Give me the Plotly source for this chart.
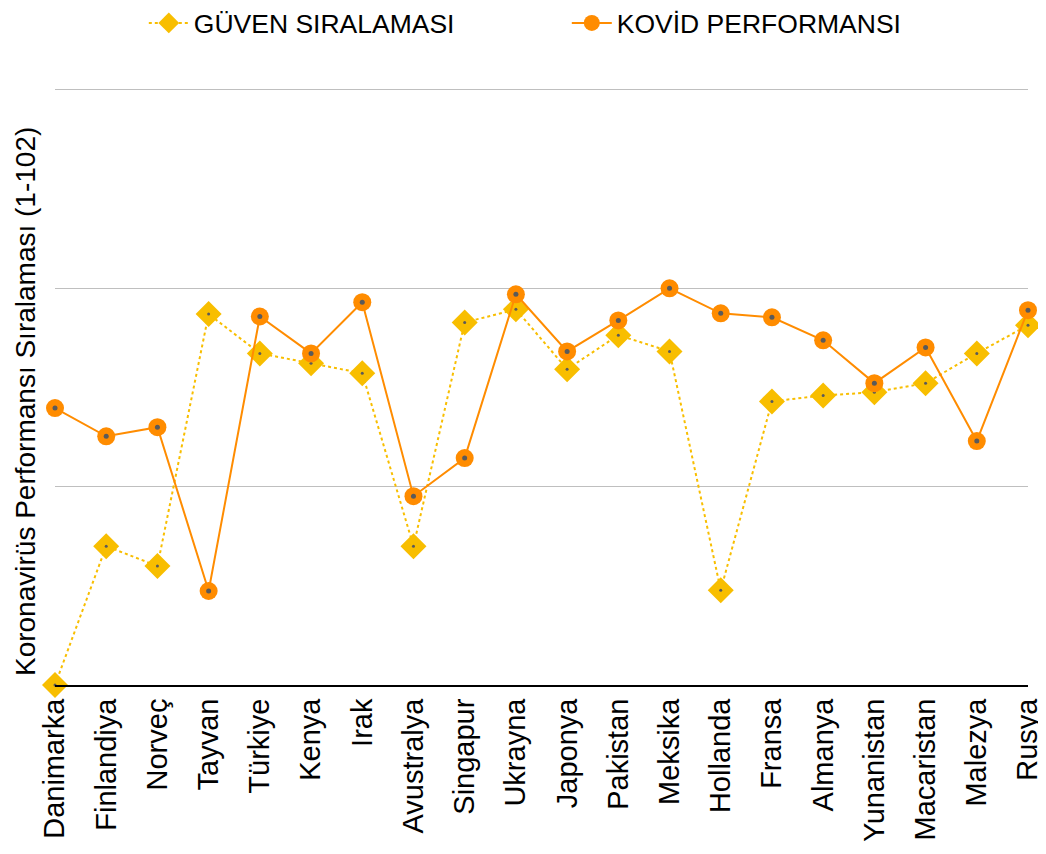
import plotly.graph_objects as go

countries = ["Danimarka", "Finlandiya", "Norveç", "Tayvan", "Türkiye", "Kenya", "Irak",
             "Avustralya", "Singapur", "Ukrayna", "Japonya", "Pakistan", "Meksika", "Hollanda",
             "Fransa", "Almanya", "Yunanistan", "Macaristan", "Malezya", "Rusya"]
guven = [0, 35, 30, 93.5, 83.6, 81.1, 78.6, 35, 91.4, 94.7, 79.6, 88.2, 84.1, 23.9,
         71.5, 73, 73.8, 76.1, 83.6, 90.7]
kovid = [69.8, 62.7, 65, 23.7, 92.9, 83.6, 96.5, 47.6, 57.2, 98.5, 84.1, 91.9, 100, 93.7,
         92.7, 86.9, 76.1, 85.1, 61.5, 94.5]
y_title = "Koronavirüs Performansı Sıralaması (1-102)"

x_idx = list(range(len(countries)))
FONT = "Liberation Sans, Arial, sans-serif"
GOLD = "#F8BE00"
ORANGE = "#FF8C00"
DOT = "#5A5A5A"

fig = go.Figure()
fig.add_trace(go.Scatter(
    x=x_idx, y=guven, name="GÜVEN SIRALAMASI", mode="lines+markers",
    line=dict(color=GOLD, width=2, dash="3px,3px"),
    marker=dict(symbol="diamond", size=20, color=GOLD),
    cliponaxis=False))
fig.add_trace(go.Scatter(
    x=x_idx, y=guven, mode="markers", showlegend=False, hoverinfo="skip",
    marker=dict(symbol="circle", size=3, color=DOT), cliponaxis=False))
fig.add_trace(go.Scatter(
    x=x_idx, y=kovid, name="KOVİD PERFORMANSI", mode="lines+markers",
    line=dict(color=ORANGE, width=2),
    marker=dict(symbol="circle", size=18, color=ORANGE),
    cliponaxis=False))
fig.add_trace(go.Scatter(
    x=x_idx, y=kovid, mode="markers", showlegend=False, hoverinfo="skip",
    marker=dict(symbol="circle", size=5, color=DOT), cliponaxis=False))

fig.add_annotation(
    text=y_title, xref="paper", yref="paper", x=0, y=0.474, xshift=-30,
    xanchor="center", yanchor="middle", textangle=-90, showarrow=False,
    font=dict(size=28, family=FONT, color="black"))

fig.update_layout(
    width=1038, height=846,
    margin=dict(l=47, r=18, t=80, b=169, autoexpand=False),
    paper_bgcolor="white", plot_bgcolor="white",
    font=dict(family=FONT, color="black"),
    showlegend=True,
    legend=dict(orientation="h", x=0.526, xanchor="center", y=0.982, yanchor="middle",
                yref="container", font=dict(size=26.5, family=FONT), itemwidth=40,
                entrywidth=368, traceorder="normal"),
    xaxis=dict(range=[0, 19], tickmode="array", tickvals=x_idx, ticktext=countries,
               tickangle=-90, tickfont=dict(size=29, family=FONT), showgrid=False,
               showline=True, linecolor="black", linewidth=2, ticks="", zeroline=False,
               automargin=False),
    yaxis=dict(range=[0, 150.5], tickmode="array", tickvals=[50, 100, 150],
               showticklabels=False, showgrid=True, automargin=False,
               gridcolor="#BFBFBF", gridwidth=1, zeroline=False, showline=False),
)
fig.write_html("out.html")
